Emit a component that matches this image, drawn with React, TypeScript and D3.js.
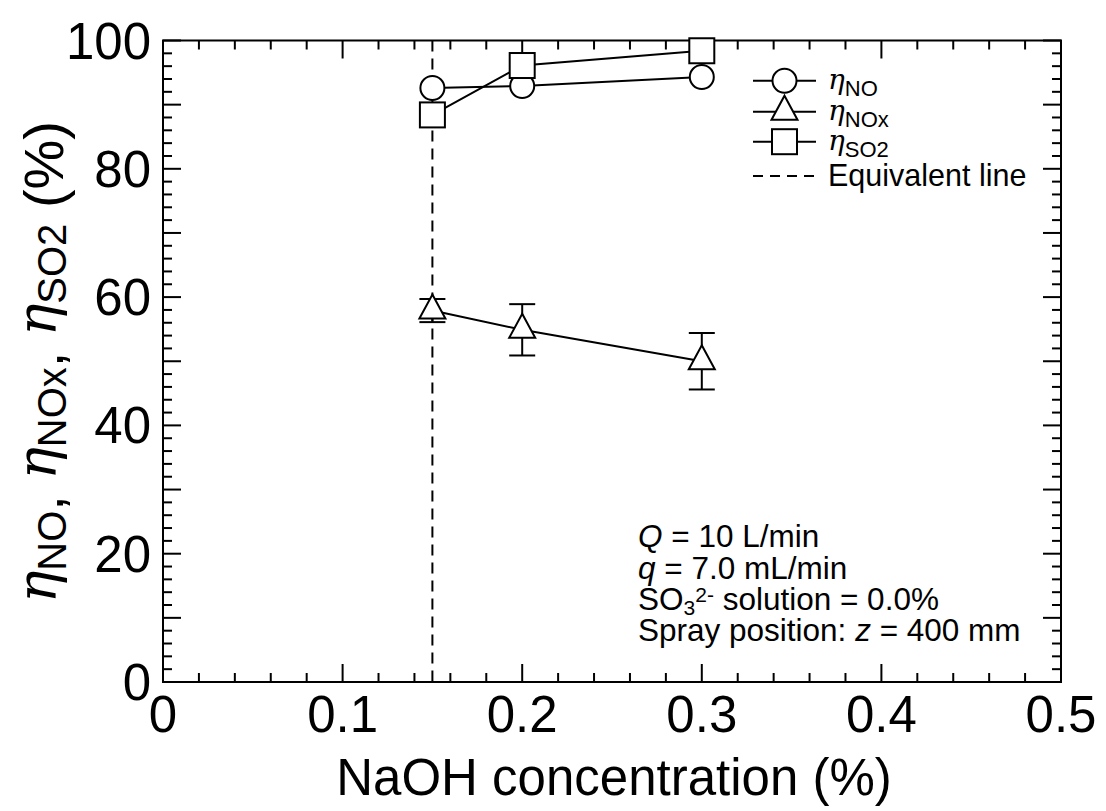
import React from "react";
import * as d3 from "d3";

// ---- data ----
const naoh = [0.15, 0.2, 0.3];
const etaNO = [92.6, 92.9, 94.3];
const etaNOx = [57.9, 54.9, 50.0];
const etaNOxErr = [1.8, 4.0, 4.4];
const etaSO2 = [88.4, 96.1, 98.4];
const equivalentNaOH = 0.15;
const xTickLabels = [0, 0.1, 0.2, 0.3, 0.4, 0.5];
const yTickLabels = [0, 20, 40, 60, 80, 100];

const W = 1106;
const H = 811;
const L = 163, R = 1061, T = 40.5, B = 682;
const FONT = "Arial, 'Liberation Sans', sans-serif";
const GREEK = "'DejaVu Serif', serif";

export default function App() {
  const x = d3.scaleLinear().domain([0, 0.5]).range([L, R]);
  const y = d3.scaleLinear().domain([0, 100]).range([B, T]);

  const xMinor = d3.range(0, 0.5001, 0.02);
  const yMinor = d3.range(0, 100.001, 2);
  const isMajorX = (v: number) => Math.abs(v * 10 - Math.round(v * 10)) < 1e-6;
  const isMajorY = (v: number) => Math.abs(v / 10 - Math.round(v / 10)) < 1e-6;

  const line = d3
    .line<[number, number]>()
    .x((d) => x(d[0]))
    .y((d) => y(d[1]));

  const ptsNO = naoh.map((v, i) => [v, etaNO[i]] as [number, number]);
  const ptsNOx = naoh.map((v, i) => [v, etaNOx[i]] as [number, number]);
  const ptsSO2 = naoh.map((v, i) => [v, etaSO2[i]] as [number, number]);

  const sw = 2;
  const circle = (cx: number, cy: number, k: string) => (
    <circle key={k} cx={cx} cy={cy} r={12} fill="#fff" stroke="#000" strokeWidth={sw} />
  );
  const square = (cx: number, cy: number, k: string) => (
    <rect key={k} x={cx - 12.5} y={cy - 12.5} width={25} height={25} fill="#fff" stroke="#000" strokeWidth={sw} />
  );
  const tri = (cx: number, cy: number, k: string) => (
    <path
      key={k}
      d={`M${cx},${cy - 16}L${cx + 13},${cy + 8}L${cx - 13},${cy + 8}Z`}
      fill="#fff"
      stroke="#000"
      strokeWidth={sw}
      strokeLinejoin="miter"
    />
  );

  const legendRows = [
    { y: 80.7, sub: "NO", marker: circle },
    { y: 111.7, sub: "NOx", marker: tri },
    { y: 141.7, sub: "SO2", marker: square },
  ];

  return (
    <svg
      width={W}
      height={H}
      style={{ position: "absolute", left: 0, top: 0, background: "#fff" }}
      fontFamily={FONT}
    >
      <rect x={0} y={0} width={W} height={H} fill="#fff" />

      {/* ticks */}
      <g stroke="#000" strokeWidth={2}>
        {xMinor.map((v, i) => {
          const len = isMajorX(v) ? 18 : 9;
          return (
            <g key={"xt" + i}>
              <line x1={x(v)} x2={x(v)} y1={B} y2={B - len} />
              <line x1={x(v)} x2={x(v)} y1={T} y2={T + len} />
            </g>
          );
        })}
        {yMinor.map((v, i) => {
          const len = isMajorY(v) ? 18 : 9;
          return (
            <g key={"yt" + i}>
              <line x1={L} x2={L + len} y1={y(v)} y2={y(v)} />
              <line x1={R} x2={R - len} y1={y(v)} y2={y(v)} />
            </g>
          );
        })}
      </g>

      {/* equivalent line */}
      <line
        x1={x(equivalentNaOH)}
        x2={x(equivalentNaOH)}
        y1={T}
        y2={B}
        stroke="#000"
        strokeWidth={2}
        strokeDasharray="11,7"
      />

      {/* frame */}
      <rect x={L} y={T} width={R - L} height={B - T} fill="none" stroke="#000" strokeWidth={2} />

      {/* tick labels */}
      <g fontSize={51} fill="#000">
        {xTickLabels.map((v) => (
          <text key={"xl" + v} x={x(v)} y={732} textAnchor="middle">
            {String(v)}
          </text>
        ))}
        {yTickLabels.map((v) => (
          <text key={"yl" + v} x={151} y={y(v) + 18} textAnchor="end">
            {String(v)}
          </text>
        ))}
      </g>

      {/* NO series */}
      <path d={line(ptsNO) || ""} fill="none" stroke="#000" strokeWidth={2} />
      {ptsNO.map((p, i) => circle(x(p[0]), y(p[1]), "c" + i))}

      {/* NOx series with error bars */}
      <path d={line(ptsNOx) || ""} fill="none" stroke="#000" strokeWidth={2} />
      <g stroke="#000" strokeWidth={2}>
        {ptsNOx.map((p, i) => {
          const cx = x(p[0]);
          const y1 = y(p[1] + etaNOxErr[i]);
          const y2 = y(p[1] - etaNOxErr[i]);
          return (
            <g key={"e" + i}>
              <line x1={cx} x2={cx} y1={y1} y2={y2} />
              <line x1={cx - 13} x2={cx + 13} y1={y1} y2={y1} />
              <line x1={cx - 13} x2={cx + 13} y1={y2} y2={y2} />
            </g>
          );
        })}
      </g>
      {ptsNOx.map((p, i) => tri(x(p[0]), y(p[1]), "t" + i))}

      {/* SO2 series */}
      <path d={line(ptsSO2) || ""} fill="none" stroke="#000" strokeWidth={2} />
      {ptsSO2.map((p, i) => square(x(p[0]), y(p[1]), "s" + i))}

      {/* legend */}
      {legendRows.map((r, i) => (
        <g key={"lg" + i}>
          <line x1={753} x2={816} y1={r.y} y2={r.y} stroke="#000" strokeWidth={2} />
          {r.marker(784.5, r.y, "lm" + i)}
          <text x={828} y={r.y + 8} fontSize={30}>
            <tspan fontFamily={GREEK} fontStyle="italic" fontSize={28}>η</tspan>
            <tspan fontSize={22} dy={7}>{r.sub}</tspan>
          </text>
        </g>
      ))}
      <line x1={753} x2={816} y1={176} y2={176} stroke="#000" strokeWidth={2} strokeDasharray="10,7" />
      <text x={828} y={186} fontSize={30.5}>Equivalent line</text>

      {/* annotation */}
      <g fontSize={31.5} fill="#000">
        <text x={638} y={547}>
          <tspan fontStyle="italic">Q</tspan> = 10 L/min
        </text>
        <text x={638} y={578.5}>
          <tspan fontStyle="italic">q</tspan> = 7.0 mL/min
        </text>
        <text x={638} y={610}>
          SO<tspan fontSize={21} dy={5}>3</tspan>
          <tspan fontSize={21} dy={-13}>2-</tspan>
          <tspan dy={8}> solution = 0.0%</tspan>
        </text>
        <text x={638} y={641}>
          Spray position: <tspan fontStyle="italic">z</tspan> = 400 mm
        </text>
      </g>

      {/* axis titles */}
      <text x={614} y={795} fontSize={51} textAnchor="middle">
        NaOH concentration (%)
      </text>
      <text transform="translate(63,603) rotate(-90)" fontSize={56}>
        <tspan fontFamily={GREEK} fontStyle="italic" fontSize={54} dy={-7}>η</tspan>
        <tspan fontSize={40} dy={10}>NO</tspan>
        <tspan dy={-3}>, </tspan>
        <tspan fontFamily={GREEK} fontStyle="italic" fontSize={54} dy={-7}>η</tspan>
        <tspan fontSize={40} dy={10}>NOx</tspan>
        <tspan dy={-3}>, </tspan>
        <tspan fontFamily={GREEK} fontStyle="italic" fontSize={54} dy={-7}>η</tspan>
        <tspan fontSize={40} dy={10}>SO2</tspan>
        <tspan dy={-3}> (%)</tspan>
      </text>
    </svg>
  );
}
